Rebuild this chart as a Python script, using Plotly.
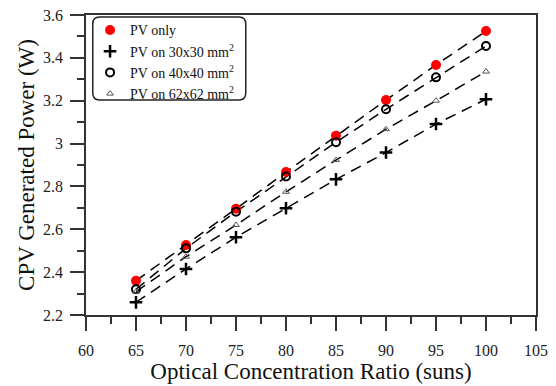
import plotly.graph_objects as go

ratio = [65, 70, 75, 80, 85, 90, 95, 100]
pv_only = [2.36, 2.527, 2.696, 2.867, 3.037, 3.203, 3.367, 3.525]
pv_30 = [2.259, 2.415, 2.563, 2.698, 2.833, 2.958, 3.091, 3.207]
pv_40 = [2.32, 2.511, 2.682, 2.846, 3.006, 3.16, 3.309, 3.455]
pv_62 = [2.309, 2.472, 2.62, 2.775, 2.923, 3.067, 3.2, 3.336]

names = ["PV only", "PV on 30x30 mm<sup>2</sup>", "PV on 40x40 mm<sup>2</sup>", "PV on 62x62 mm<sup>2</sup>"]
series = [pv_only, pv_30, pv_40, pv_62]
markers = [
    dict(symbol="circle", size=10, color="#ff0000", line=dict(width=0)),
    dict(symbol="cross-thin", size=9, color="black", line=dict(width=2.5, color="black")),
    dict(symbol="circle-open", size=8, color="black", line=dict(width=2, color="black")),
    dict(symbol="triangle-up-open", size=6, color="#555555", line=dict(width=1, color="#555555")),
]

font = "Liberation Serif"
fig = go.Figure()
for ys in series:
    fig.add_trace(go.Scatter(x=ratio, y=ys, mode="lines", showlegend=False,
                             line=dict(color="black", width=1.5, dash="11px,7px")))
for n, ys, m in zip(names, series, markers):
    fig.add_trace(go.Scatter(x=ratio, y=ys, mode="markers", name=n, marker=m))

axis_common = dict(showline=True, linecolor="#333333", linewidth=1.5, mirror=True,
                   ticks="outside", tickcolor="#333333", tickwidth=1.5, ticklen=14,
                   showgrid=False, zeroline=False, automargin=False,
                   tickfont=dict(family=font, size=16, color="#222222"))
fig.update_xaxes(range=[60, 105], dtick=5, tick0=60, ticklabelstandoff=6,
                 minor=dict(ticks="outside", dtick=2.5, ticklen=7, tickwidth=1.5, tickcolor="#333333"),
                 title=dict(text="Optical Concentration Ratio (suns)", font=dict(family=font, size=23, color="#111111"), standoff=2),
                 **axis_common)
fig.update_yaxes(range=[2.2, 3.6], dtick=0.2, tick0=2.2, ticklabelstandoff=4,
                 minor=dict(ticks="outside", dtick=0.1, ticklen=7, tickwidth=1.5, tickcolor="#333333"),
                 title=dict(text="CPV Generated Power (W)", font=dict(family=font, size=23, color="#111111"), standoff=2),
                 **axis_common)

fig.add_shape(type="path", xref="paper", yref="paper",
              path="M 0.03,0.993 L 0.34,0.993 Q 0.355,0.993 0.355,0.97 L 0.355,0.74 Q 0.355,0.717 0.34,0.717 L 0.03,0.717 Q 0.015,0.717 0.015,0.74 L 0.015,0.97 Q 0.015,0.993 0.03,0.993 Z",
              line=dict(color="#222222", width=1.5), fillcolor="white", layer="below")

fig.update_layout(
    width=556, height=386,
    margin=dict(l=86, r=20, t=15, b=71, autoexpand=False),
    plot_bgcolor="white", paper_bgcolor="white",
    legend=dict(x=0.009, y=1.002, xanchor="left", yanchor="top",
                bgcolor="rgba(0,0,0,0)", borderwidth=0,
                font=dict(family=font, size=14, color="#111111"),
                itemwidth=30, tracegroupgap=0),
    showlegend=True,
)
fig.write_html("out.html")
